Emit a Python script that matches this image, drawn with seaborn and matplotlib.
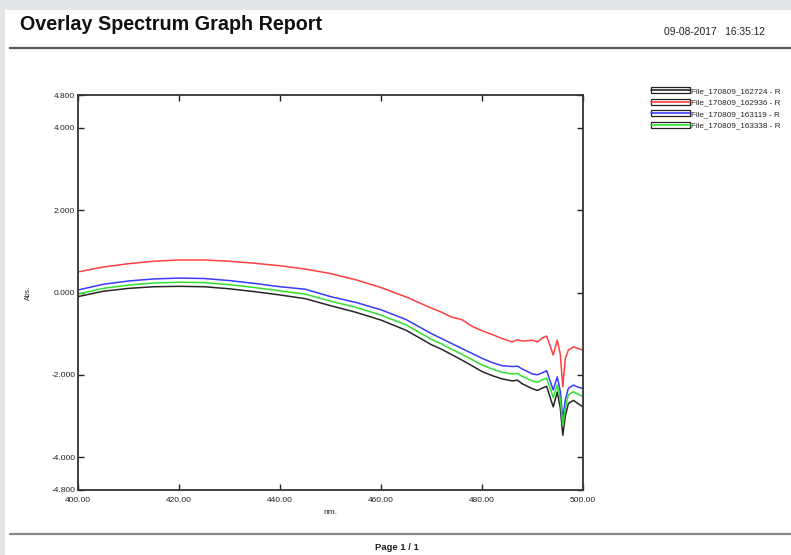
import numpy as np
import pandas as pd
import matplotlib
matplotlib.use("Agg")
import matplotlib.pyplot as plt
import seaborn as sns
from matplotlib.patches import Rectangle
from matplotlib.lines import Line2D
from matplotlib.legend_handler import HandlerTuple

# ---------------- data ----------------
wavelength = [400, 405, 410, 415, 420, 425, 430, 435, 440, 445, 450, 455, 460, 465,
              470, 472, 474, 476, 478, 480, 482, 484, 486, 487, 488, 490, 491, 492,
              492.8, 493.5, 494.1, 494.9, 495.5, 496.0, 496.5, 497.1, 498.1, 499, 500]

abs_162724 = [-0.10, 0.03, 0.10, 0.14, 0.15, 0.14, 0.09, 0.02, -0.06, -0.15, -0.32, -0.48, -0.67, -0.92,
              -1.27, -1.38, -1.51, -1.64, -1.78, -1.92, -2.02, -2.10, -2.15, -2.13, -2.22, -2.34, -2.38, -2.32,
              -2.28, -2.55, -2.78, -2.42, -2.80, -3.47, -3.00, -2.70, -2.62, -2.70, -2.78]
abs_162936 = [0.50, 0.62, 0.70, 0.76, 0.79, 0.79, 0.76, 0.71, 0.65, 0.57, 0.46, 0.31, 0.12, -0.11,
              -0.38, -0.48, -0.60, -0.66, -0.82, -0.93, -1.02, -1.12, -1.20, -1.15, -1.18, -1.16, -1.20, -1.10,
              -1.06, -1.30, -1.52, -1.16, -1.50, -2.29, -1.60, -1.40, -1.32, -1.36, -1.40]
abs_163119 = [0.06, 0.20, 0.28, 0.33, 0.35, 0.34, 0.29, 0.22, 0.14, 0.08, -0.10, -0.24, -0.42, -0.66,
              -1.00, -1.12, -1.24, -1.36, -1.48, -1.60, -1.70, -1.78, -1.80, -1.79, -1.86, -1.98, -2.00, -1.95,
              -1.90, -2.15, -2.37, -2.05, -2.40, -3.07, -2.60, -2.33, -2.25, -2.30, -2.33]
abs_163338 = [-0.04, 0.10, 0.18, 0.23, 0.25, 0.24, 0.19, 0.12, 0.04, -0.04, -0.21, -0.36, -0.55, -0.79,
              -1.14, -1.25, -1.38, -1.50, -1.63, -1.76, -1.86, -1.94, -1.98, -1.97, -2.04, -2.15, -2.18, -2.12,
              -2.08, -2.33, -2.55, -2.25, -2.60, -3.24, -2.80, -2.49, -2.41, -2.47, -2.53]

series_names = ["File_170809_162724 - R", "File_170809_162936 - R",
                "File_170809_163119 - R", "File_170809_163338 - R"]
series_colors = ["#262626", "#ff4040", "#3a3aff", "#2fe02f"]

x_ticks = [400, 420, 440, 460, 480, 500]
y_ticks = [-4.8, -4.0, -2.0, 0.0, 2.0, 4.0, 4.8]

df = pd.DataFrame({"nm": wavelength,
                   series_names[0]: abs_162724,
                   series_names[1]: abs_162936,
                   series_names[2]: abs_163119,
                   series_names[3]: abs_163338})
long = df.melt(id_vars="nm", var_name="file", value_name="abs")

# ---------------- figure ----------------
sns.set_style("ticks")
plt.rcParams["font.family"] = ["Liberation Sans", "DejaVu Sans"]

W, H = 791, 555
fig = plt.figure(figsize=(W / 100, H / 100), dpi=100)
fig.patch.set_facecolor("#e2e5e8")
fig.add_artist(Rectangle((5 / W, 0), 1, (H - 10) / H, transform=fig.transFigure,
                         facecolor="white", edgecolor="none", zorder=-10))

# header / footer
fig.text(20 / W, 1 - 24.5 / H, "Overlay Spectrum Graph Report", fontsize=14.2,
         fontweight="bold", ha="left", va="center", color="#111111")
fig.text(765 / W, 1 - 32 / H, "09-08-2017   16:35:12", fontsize=7.4,
         ha="right", va="center", color="#222222")
fig.add_artist(Line2D([10 / W, 1], [1 - 47.5 / H] * 2, transform=fig.transFigure,
                      color="#555555", lw=1.6))
fig.add_artist(Line2D([10 / W, 1], [1 - 534 / H] * 2, transform=fig.transFigure,
                      color="#8a8a8a", lw=1.6))
fig.text(397 / W, 1 - 548 / H, "Page 1 / 1", fontsize=6.8, fontweight="bold",
         ha="center", va="center", color="#222222")

ax = fig.add_axes([78 / W, 1 - 490 / H, (583 - 78) / W, (490 - 95) / H])
ax.set_facecolor("white")

sns.lineplot(data=long, x="nm", y="abs", hue="file", hue_order=series_names,
             palette=series_colors, estimator=None, sort=False, legend=False,
             linewidth=1.1, ax=ax)

ax.set_xlim(400, 500)
ax.set_ylim(-4.8, 4.8)
ax.set_xticks(x_ticks)
ax.set_xticklabels([f"{v:.2f}" for v in x_ticks])
ax.set_yticks(y_ticks)
ax.set_yticklabels([f"{v:.3f}" for v in y_ticks])
ax.tick_params(direction="in", top=True, right=True, length=4, width=1,
               labelsize=6, colors="#222222", pad=2)
ax.tick_params(axis="x", pad=5)
for s in ax.spines.values():
    s.set_visible(True)
    s.set_linewidth(1.3)
    s.set_color("#333333")
ax.set_xlabel("nm.", fontsize=6, labelpad=4, color="#222222")
ax.set_ylabel("Abs.", fontsize=5, labelpad=14, color="#222222")

# legend with boxed handles
handles = []
for c in series_colors:
    box = Rectangle((0, 0), 1, 1, facecolor="white", edgecolor="#222222", lw=0.9)
    ln = Line2D([0], [0], color=c, lw=1.2)
    handles.append((box, ln))
fig.legend(handles, series_names, handler_map={tuple: HandlerTuple(ndivide=1, pad=0)},
           loc="upper left", bbox_to_anchor=(651 / W, 1 - 87.5 / H),
           bbox_transform=fig.transFigure, frameon=False, fontsize=5.9,
           handlelength=4.7, handleheight=0.7, handletextpad=0.2,
           labelspacing=0.45, borderpad=0, borderaxespad=0)

fig.savefig("out.png", dpi=100, facecolor=fig.get_facecolor())
